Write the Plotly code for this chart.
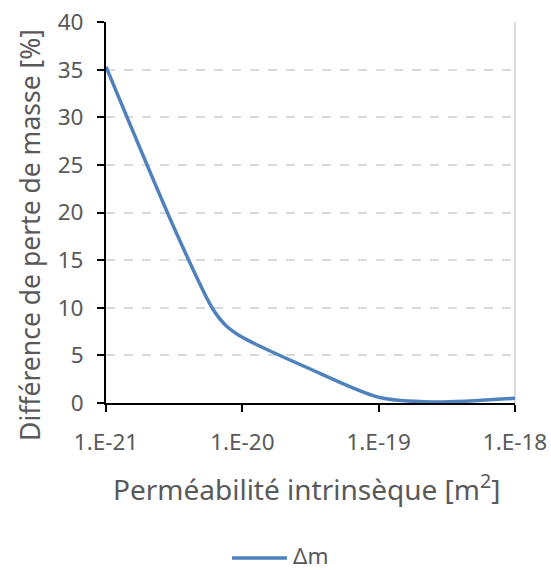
import plotly.graph_objects as go

permeability = [1e-21, 3.2e-21, 6e-21, 7.5e-21, 1e-20, 3e-20, 1e-19, 2.5e-19, 1e-18]
delta_m = [35.3, 18.2, 10.0, 8.2, 6.9, 3.7, 0.6, 0.1, 0.5]

x_tickvals = [1e-21, 1e-20, 1e-19, 1e-18]
x_ticktext = ["1.E-21", "1.E-20", "1.E-19", "1.E-18"]
y_tickvals = [0, 5, 10, 15, 20, 25, 30, 35, 40]
series_name = "Δm"

FONT = "Noto Sans"
GREY = "#595959"
BLUE = "#4F81BD"

fig = go.Figure()
fig.add_trace(go.Scatter(
    x=permeability, y=delta_m, mode="lines", name=series_name,
    line=dict(color=BLUE, width=3.5, shape="spline", smoothing=0.8),
))

fig.update_layout(
    width=551, height=570,
    margin=dict(l=106, r=36, t=22, b=167),
    paper_bgcolor="white", plot_bgcolor="white",
    font=dict(family=FONT, color=GREY, size=22),
    showlegend=False,
    xaxis=dict(
        type="log", range=[-21, -18], automargin=False,
        tickvals=x_tickvals, ticktext=x_ticktext,
        showgrid=False, zeroline=False,
        showline=True, linecolor="black", linewidth=2,
        ticks="outside", ticklen=7, tickwidth=2, tickcolor="black",
        ticklabelstandoff=11,
        tickfont=dict(size=22.5, color=GREY),
    ),
    yaxis=dict(
        range=[0, 40], tickvals=y_tickvals, automargin=False,
        showgrid=True, gridcolor="#D9D9D9", gridwidth=1.5, griddash="dash",
        zeroline=False,
        showline=True, linecolor="black", linewidth=2,
        ticks="outside", ticklen=7, tickwidth=2, tickcolor="black",
        ticklabelstandoff=9,
        tickfont=dict(size=22.5, color=GREY),
    ),
)

# axis titles
fig.add_annotation(text="Perméabilité intrinsèque [m<sup>2</sup>]", xref="paper", yref="paper",
                   x=0.49, y=-0.222, xanchor="center", yanchor="middle", showarrow=False,
                   font=dict(size=28, color=GREY, family=FONT))
fig.add_annotation(text="Différence de perte de masse [%]", xref="paper", yref="paper",
                   x=-0.186, y=0.441, xanchor="center", yanchor="middle", showarrow=False,
                   textangle=-90, font=dict(size=26.5, color=GREY, family=FONT))

# legend (line sample + label)
fig.add_shape(type="line", xref="paper", yref="paper", x0=0.308, x1=0.4425, y0=-0.4068, y1=-0.4068,
              line=dict(color=BLUE, width=3.5))
fig.add_annotation(text=series_name, xref="paper", yref="paper", x=0.452, y=-0.4,
                   xanchor="left", yanchor="middle", showarrow=False,
                   font=dict(size=22.5, color=GREY, family=FONT))

# right plot-area border
fig.add_shape(type="line", xref="paper", yref="paper", x0=1, x1=1, y0=0, y1=1,
              line=dict(color="#D0D0D0", width=1.5), layer="below")

fig.write_html("out.html", config={"displayModeBar": False},
               post_script="document.body.style.margin='0';document.body.style.overflow='hidden';")
